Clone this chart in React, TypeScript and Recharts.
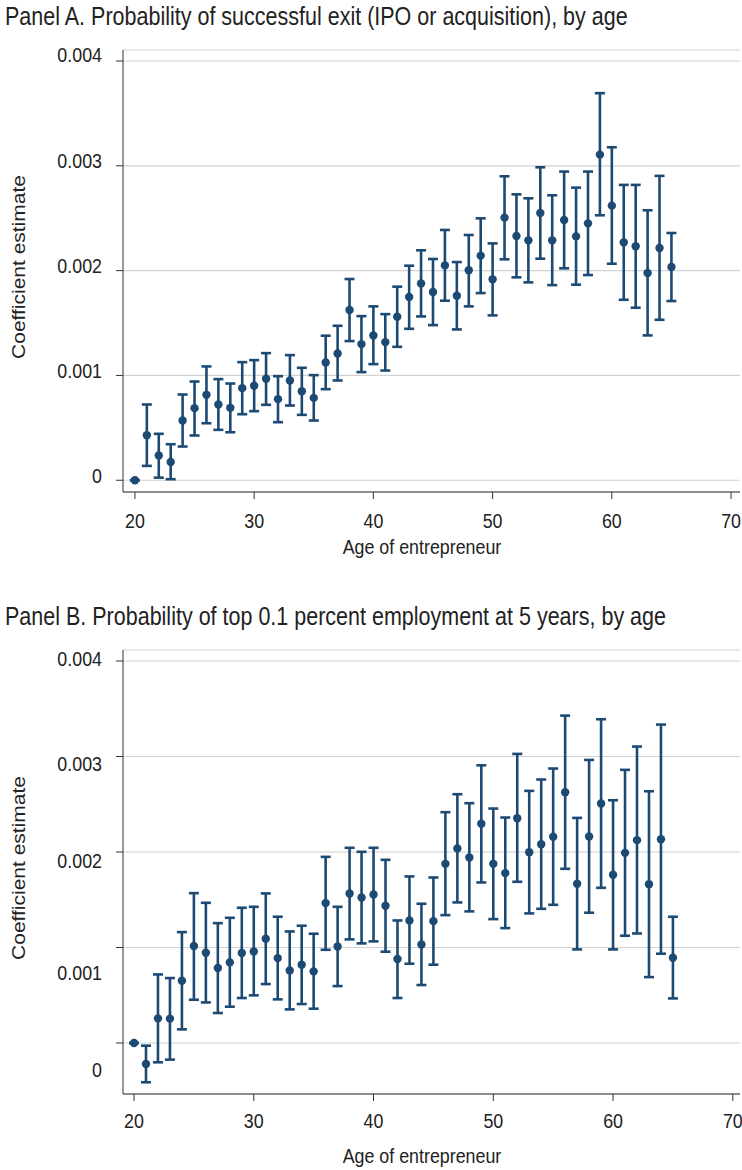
import React from "react";
import {
  ComposedChart,
  Scatter,
  ErrorBar,
  XAxis,
  YAxis,
  CartesianGrid,
  Label,
} from "recharts";

// values, in units of 0.001
const ages = [
  20, 21, 22, 23, 24, 25, 26, 27, 28, 29, 30, 31, 32, 33, 34, 35, 36, 37, 38, 39, 40, 41, 42,
  43, 44, 45, 46, 47, 48, 49, 50, 51, 52, 53, 54, 55, 56, 57, 58, 59, 60, 61, 62, 63, 64, 65,
];

const exitEst = [
  0, 0.43, 0.236, 0.175, 0.57, 0.688, 0.815, 0.723, 0.691, 0.879, 0.901, 0.968, 0.774, 0.952,
  0.85, 0.786, 1.124, 1.21, 1.624, 1.299, 1.382, 1.318, 1.56, 1.748, 1.878, 1.796, 2.05, 1.761,
  2.003, 2.143, 1.917, 2.506, 2.33, 2.289, 2.55, 2.289, 2.483, 2.327, 2.451, 3.107, 2.62, 2.27,
  2.232, 1.977, 2.216, 2.034,
];
const exitLo = [
  0, 0.137, 0.025, 0.01, 0.322, 0.427, 0.544, 0.481, 0.458, 0.63, 0.659, 0.72, 0.554, 0.713,
  0.624, 0.57, 0.869, 0.952, 1.328, 1.032, 1.108, 1.047, 1.273, 1.445, 1.563, 1.48, 1.713, 1.439,
  1.659, 1.786, 1.573, 2.108, 1.936, 1.888, 2.114, 1.862, 2.022, 1.866, 1.958, 2.528, 2.066, 1.722,
  1.646, 1.382, 1.531, 1.71,
];
const exitHi = [
  0, 0.723, 0.443, 0.344, 0.818, 0.942, 1.086, 0.965, 0.923, 1.127, 1.146, 1.213, 0.993, 1.194,
  1.073, 1.003, 1.379, 1.474, 1.92, 1.566, 1.659, 1.585, 1.847, 2.047, 2.194, 2.111, 2.388, 2.082,
  2.34, 2.499, 2.26, 2.9, 2.728, 2.69, 2.986, 2.719, 2.945, 2.792, 2.945, 3.693, 3.177, 2.818,
  2.818, 2.576, 2.904, 2.359,
];

const topEst = [
  0, -0.22, 0.258, 0.255, 0.652, 1.015, 0.945, 0.785, 0.844, 0.942, 0.959, 1.092, 0.889, 0.76,
  0.82, 0.75, 1.465, 1.011, 1.566, 1.524, 1.555, 1.437, 0.879, 1.283, 1.032, 1.276, 1.876, 2.037,
  1.942, 2.295, 1.876, 1.779, 2.354, 1.998, 2.082, 2.159, 2.626, 1.667, 2.162, 2.507, 1.761, 1.991,
  2.124, 1.663, 2.134, 0.893,
];
const topLo = [
  0, -0.411, -0.202, -0.174, 0.143, 0.453, 0.425, 0.314, 0.38, 0.471, 0.499, 0.617, 0.457, 0.352,
  0.408, 0.359, 0.976, 0.596, 1.085, 1.043, 1.064, 0.956, 0.471, 0.83, 0.607, 0.82, 1.339, 1.472,
  1.378, 1.681, 1.297, 1.203, 1.688, 1.357, 1.405, 1.447, 1.824, 0.98, 1.364, 1.625, 0.98, 1.123,
  1.147, 0.69, 0.935, 0.467,
];
const topHi = [
  0, -0.028, 0.718, 0.68, 1.161, 1.569, 1.468, 1.255, 1.311, 1.416, 1.426, 1.566, 1.322, 1.168,
  1.228, 1.144, 1.949, 1.426, 2.044, 2.002, 2.044, 1.918, 1.283, 1.744, 1.458, 1.733, 2.417, 2.605,
  2.511, 2.908, 2.455, 2.361, 3.027, 2.64, 2.759, 2.874, 3.428, 2.357, 2.964, 3.39, 2.542, 2.86,
  3.104, 2.636, 3.334, 1.322,
];

const xTicks = [20, 30, 40, 50, 60, 70];
const yTicks = [0, 0.001, 0.002, 0.003, 0.004];
const yTickLabels = ["0", "0.001", "0.002", "0.003", "0.004"];

const BLUE = "#1c4a73";
const INK = "#222";
const FONT = '"Liberation Sans", Arial, Helvetica, sans-serif';
const SQUEEZE = 0.85; // the source figure's text is narrow

function toRows(est: number[], lo: number[], hi: number[]) {
  return ages.map((age, i) => ({
    age,
    est: est[i] / 1000,
    err: [(est[i] - lo[i]) / 1000, (hi[i] - est[i]) / 1000],
  }));
}

function YTick(props: any) {
  const { x, y, payload, shifts } = props;
  const i = yTicks.findIndex((t) => Math.abs(t - payload.value) < 1e-9);
  return (
    <text
      transform={`translate(${x},${y + (shifts[i] ?? 0)}) scale(${SQUEEZE},1)`}
      dy="0.355em"
      textAnchor="end"
      fontSize={21}
      fill={INK}
      fontFamily={FONT}
    >
      {yTickLabels[i]}
    </text>
  );
}

function XTick(props: any) {
  const { x, y, payload } = props;
  return (
    <text
      transform={`translate(${x},${y}) scale(${SQUEEZE},1)`}
      dy="0.71em"
      textAnchor="middle"
      fontSize={21}
      fill={INK}
      fontFamily={FONT}
    >
      {payload.value}
    </text>
  );
}

function XTitle(props: any) {
  const { viewBox, base } = props;
  const cx = viewBox.x + viewBox.width / 2 - 9.5;
  return (
    <text
      transform={`translate(${cx},${viewBox.y + base}) scale(${SQUEEZE},1)`}
      textAnchor="middle"
      fontSize={21}
      fill={INK}
      fontFamily={FONT}
    >
      Age of entrepreneur
    </text>
  );
}

function YTitle(props: any) {
  const { viewBox } = props;
  const cy = viewBox.y + viewBox.height / 2 - 4;
  return (
    <text
      transform={`translate(19,${cy}) rotate(-90) scale(1,${SQUEEZE})`}
      dy="0.355em"
      textAnchor="middle"
      fontSize={21}
      fill={INK}
      fontFamily={FONT}
    >
      Coefficient estimate
    </text>
  );
}

const Dot = (p: any) => <circle cx={p.cx} cy={p.cy} r={4.2} fill={BLUE} />;

interface PanelProps {
  title: string;
  data: any[];
  top: number;
  height: number;
  xAxisHeight: number;
  xTickMargin: number;
  xTitleBase: number;
  xDomain: [number, number];
  yDomain: [number, number];
  shifts: number[];
}

function Panel(p: PanelProps) {
  return (
    <div style={{ position: "absolute", left: 0, top: p.top, width: 742, height: p.height }}>
      <div
        style={{
          position: "absolute",
          left: 5,
          top: 1,
          fontSize: 25.3,
          lineHeight: "30px",
          color: INK,
          fontFamily: FONT,
          whiteSpace: "nowrap",
          transform: `scaleX(${SQUEEZE})`,
          transformOrigin: "left center",
        }}
      >
        {p.title}
      </div>
      <ComposedChart
        width={742}
        height={p.height}
        data={p.data}
        margin={{ top: 50, right: 2, bottom: 0, left: 0 }}
      >
        <CartesianGrid vertical={false} stroke="#d2d2d2" strokeWidth={1.2} />
        <XAxis
          dataKey="age"
          type="number"
          domain={p.xDomain}
          ticks={xTicks}
          allowDataOverflow
          height={p.xAxisHeight}
          tickSize={7}
          tickMargin={p.xTickMargin}
          stroke="#333"
          tick={<XTick />}
        >
          <Label content={<XTitle base={p.xTitleBase} />} />
        </XAxis>
        <YAxis
          dataKey="est"
          type="number"
          domain={p.yDomain}
          ticks={yTicks}
          allowDataOverflow
          interval={0}
          width={123}
          tickSize={7}
          tickMargin={14}
          stroke="#333"
          tick={<YTick shifts={p.shifts} />}
        >
          <Label content={<YTitle />} />
        </YAxis>
        <Scatter dataKey="est" fill={BLUE} shape={Dot} isAnimationActive={false}>
          <ErrorBar
            dataKey="err"
            direction="y"
            width={5}
            strokeWidth={2.6}
            stroke={BLUE}
            isAnimationActive={false}
          />
        </Scatter>
      </ComposedChart>
    </div>
  );
}

export default function App() {
  const exitRows = toRows(exitEst, exitLo, exitHi);
  const topRows = toRows(topEst, topLo, topHi);
  return (
    <div
      style={{
        position: "absolute",
        left: 0,
        top: 0,
        width: 742,
        height: 1170,
        background: "#fff",
        overflow: "hidden",
      }}
    >
      <Panel
        title="Panel A. Probability of successful exit (IPO or acquisition), by age"
        data={exitRows}
        top={0}
        height={580}
        xAxisHeight={88}
        xTickMargin={14}
        xTitleBase={61.5}
        xDomain={[19, 70.75]}
        yDomain={[-0.000112, 0.004105]}
        shifts={[-5, -5, -5, -5, -6]}
      />
      <Panel
        title="Panel B. Probability of top 0.1 percent employment at 5 years, by age"
        data={topRows}
        top={600}
        height={570}
        xAxisHeight={76}
        xTickMargin={12}
        xTitleBase={69}
        xDomain={[19.08, 70.6]}
        yDomain={[-0.000534, 0.004115]}
        shifts={[27, 25, 9, 7, -2]}
      />
    </div>
  );
}
